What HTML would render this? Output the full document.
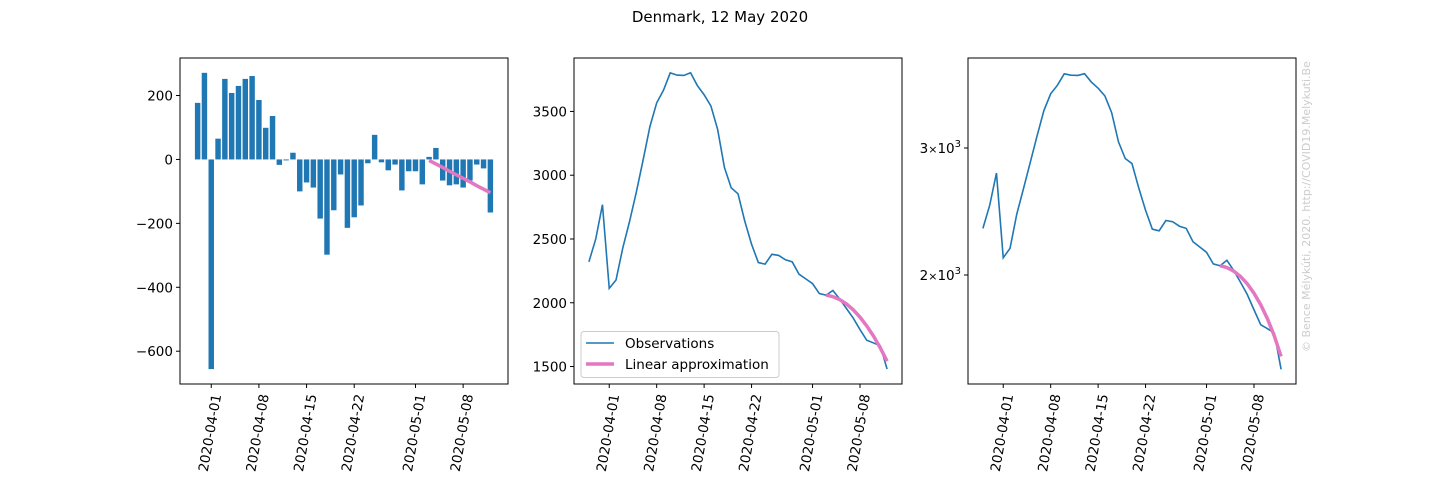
<!DOCTYPE html>
<html><head><meta charset="utf-8"><style>
html,body{margin:0;padding:0;background:#fff;}
svg{display:block;font-family:"DejaVu Sans","Liberation Sans",sans-serif;}
</style></head><body>
<svg id="fig" width="1440" height="480" viewBox="0 0 1440 480" xmlns="http://www.w3.org/2000/svg">
<text x="720" y="22" text-anchor="middle" font-size="15">Denmark, 12 May 2020</text>
<text transform="translate(1310,352) rotate(-90)" font-size="11" fill="#cccccc">© Bence Mélykúti, 2020. http://COVID19.Melykuti.Be</text>
</svg>
<script>
// index 0 = 2020-03-29
const dayLabels = ["2020-04-01","2020-04-08","2020-04-15","2020-04-22","2020-05-01","2020-05-08"];
const dayTicks = [3,10,17,24,33,40];
const changes = [177,271,-656,65,252,208,230,252,261,186,99,136,-17,-3,21,-100,-72,-88,-185,-298,-159,-47,-214,-181,-144,-12,77,-9,-34,-16,-97,-37,-37,-78,8,36,-66,-81,-78,-88,-66,-16,-28,-166]; // index 1..44
const active = [2321,2498,2769,2113,2178,2430,2638,2868,3120,3381,3567,3666,3802,3785,3782,3803,3703,3631,3543,3358,3060,2901,2854,2640,2459,2315,2303,2380,2371,2337,2321,2224,2187,2150,2072,2060,2096,2030,1955,1880,1790,1706,1685,1662,1480];
const fitIdx = [35,36,37,38,39,40,41,42,43,44];
const fitChange = [-3,-14,-25,-37,-48,-59,-70,-82,-93,-104];
const fitActive = [2060,2048,2025,1991,1945,1887,1818,1738,1646,1542];
const ticks1 = [200,0,-200,-400,-600];
const ticks2 = [1500,2000,2500,3000,3500];
const ticks3 = [3000,2000];

const NS="http://www.w3.org/2000/svg";
const svg=document.getElementById('fig');
function mk(tag,attrs,parent){const e=document.createElementNS(NS,tag);for(const k in attrs)e.setAttribute(k,attrs[k]);(parent||svg).appendChild(e);return e;}
const T=58,B=384;
function panel(x0,name,xlo,xhi,yfn,yticks,ylab){
  const g=mk('g',{});
  
  
  const xs=d=>x0+(d-xlo)/(xhi-xlo)*328;
  const frame=mk('rect',{x:x0,y:T,width:328,height:B-T,fill:'none',stroke:'#000','stroke-width':1},g);
  
  
  dayTicks.forEach((d,i)=>{
    const x=xs(d);
    mk('line',{x1:x,x2:x,y1:B,y2:B+4,stroke:'#000'},g);
    const t=mk('text',{transform:`translate(${x+10},${B+11}) rotate(-80)`,'text-anchor':'end','font-size':13.5},g);
    
    
    t.textContent=dayLabels[i];
  });
  yticks.forEach((v,i)=>{
    const y=yfn(v);
    mk('line',{x1:x0-4,x2:x0,y1:y,y2:y,stroke:'#000'},g);
    const t=mk('text',{x:x0-7,y:y+5,'text-anchor':'end','font-size':13.5},g);
    
    
    if(ylab) t.innerHTML=ylab(v); else t.textContent=(v<0?'\u2212':'')+Math.abs(v);
  });
  return {g,xs};
}
// Panel 1
const y1=v=>T+(317.4-v)/1020*(B-T);
const p1=panel(180,'daily-change-panel',-1.59,46.59,y1,ticks1);
changes.forEach((v,i)=>{
  const d=i+1,x=p1.xs(d);
  const r=mk('rect',{x:x-2.72,y:Math.min(y1(v),y1(0)),width:5.44,height:Math.abs(y1(v)-y1(0)),fill:'#1f77b4'},p1.g);
  
  
});
const f1=mk('polyline',{points:fitIdx.map((d,i)=>p1.xs(d)+','+y1(fitChange[i])).join(' '),fill:'none',stroke:'#e377c2','stroke-width':3.5},p1.g);


// Panel 2
const y2=v=>T+(3919-v)/(3919-1363)*(B-T);
const p2=panel(574,'active-cases-panel',-2.2,46.2,y2,ticks2);
const l2=mk('polyline',{points:active.map((v,i)=>p2.xs(i)+','+y2(v)).join(' '),fill:'none',stroke:'#1f77b4','stroke-width':1.6},p2.g);


const f2=mk('polyline',{points:fitIdx.map((d,i)=>p2.xs(d)+','+y2(fitActive[i])).join(' '),fill:'none',stroke:'#e377c2','stroke-width':3.5},p2.g);


const lg=mk('g',{},p2.g);


mk('rect',{x:581,y:331.5,width:198,height:46,rx:3,fill:'#fff',stroke:'#ccc'},lg);
mk('line',{x1:586,x2:614,y1:343,y2:343,stroke:'#1f77b4','stroke-width':1.6},lg);
mk('line',{x1:586,x2:614,y1:364,y2:364,stroke:'#e377c2','stroke-width':3.5},lg);
const e1=mk('text',{x:625,y:348,'font-size':13.5},lg);e1.textContent='Observations';


const e2=mk('text',{x:625,y:369,'font-size':13.5},lg);e2.textContent='Linear approximation';


// Panel 3 (log)
const L=Math.log10;
const y3=v=>148+(L(3000)-L(v))*721.2;
const p3=panel(968,'active-cases-log-panel',-2.2,46.2,y3,ticks3,v=>`${v/1000}<tspan font-size="11">×</tspan>10<tspan dy="-6" font-size="10">3</tspan>`);
const l3=mk('polyline',{points:active.map((v,i)=>p3.xs(i)+','+y3(v)).join(' '),fill:'none',stroke:'#1f77b4','stroke-width':1.6},p3.g);


const f3=mk('polyline',{points:fitIdx.map((d,i)=>p3.xs(d)+','+y3(fitActive[i])).join(' '),fill:'none',stroke:'#e377c2','stroke-width':3.5},p3.g);


</script>
</body></html>
